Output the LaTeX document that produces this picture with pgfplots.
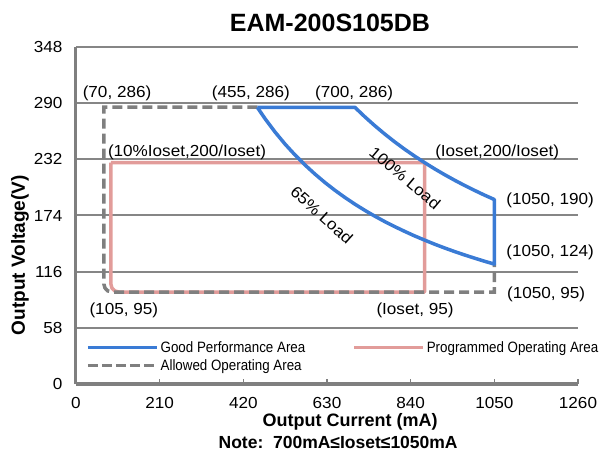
\documentclass[border=0pt]{standalone}
\usepackage{fontspec}
\setmainfont{Liberation Sans}
\newfontfamily\wfont{Liberation Sans}[FakeStretch=1.07]
\newfontfamily\nfont{Liberation Sans}[FakeStretch=0.89]
\usepackage{pgfplots}
\pgfplotsset{compat=1.18}
\definecolor{cblue}{HTML}{3A7BD5}
\definecolor{cpink}{HTML}{E29C9A}
\definecolor{cgray}{HTML}{7F7F7F}
\definecolor{cgrid}{HTML}{868686}
\begin{document}
\begin{tikzpicture}
\useasboundingbox (-76bp,-72bp) rectangle (527bp,384bp);
\begin{axis}[
  at={(0,0)}, anchor=south west,
  scale only axis, width=502bp, height=337bp,
  xmin=0, xmax=1260, ymin=0, ymax=348,
  xtick={0,210,420,630,840,1050,1260},
  ytick={0,58,116,174,232,290,348},
  axis x line*=bottom, axis y line*=left,
  axis line style={cgray, line width=3bp},
  ymajorgrids, major grid style={cgrid, line width=2bp},
  tick align=inside, major tick length=5bp,
  xtick style={cgray, line width=1.5bp},
  ytick style={draw=none},
  tick label style={font=\wfont\fontsize{16bp}{18bp}\selectfont},
  /pgf/number format/assume math mode=true,
  /pgf/number format/1000 sep={},
  xticklabel style={yshift=-10bp},
  yticklabel style={xshift=-10bp},
  clip=false,
  legend style={at={(axis cs:25,46)}, anchor=north west, draw=none, fill=none,
    font=\nfont\fontsize{15bp}{17bp}\selectfont, inner sep=0pt,
    nodes={inner ysep=1.5bp}, row sep=3bp,
    /tikz/every even column/.append style={column sep=45bp}},
  legend columns=2, legend cell align=left,
  legend image code/.code={\draw[#1] (0bp,0bp) -- (69bp,0bp);},
]
\addlegendimage{cblue, line width=3.5bp}
\addlegendentry{Good Performance Area}
\addlegendimage{cpink, line width=3.5bp}
\addlegendentry{Programmed Operating Area}
\addlegendimage{cgray, line width=3.5bp, dash pattern=on 10bp off 4bp}
\addlegendentry{Allowed Operating Area}

% Programmed operating area
\addplot[cpink, line width=3.5bp, line join=round, forget plot] coordinates {
 (87.5,228.6) (875,228.6) (875,95) (107.5,95) (97.5,96.1) (90.2,99.15) (87.5,103.3) (87.5,228.6)
};
% Allowed operating area
\addplot[cgray, line width=3.5bp, dash pattern=on 10bp off 5bp, forget plot] coordinates {
 (455,286) (70,286) (70,103.3) (72.7,99.15) (80,96.1) (90,95) (1050,95) (1050,124)
};
% Good performance area
\addplot[cblue, line width=3.5bp, line join=round, forget plot] coordinates {
 (455,285.7) (700,285.7) (725,275.9) (750,266.7) (775,258.1) (800,250.0) (825,242.4)
 (850,235.3) (875,228.6) (900,222.2) (925,216.2) (950,210.5) (975,205.1) (1000,200.0)
 (1025,195.1) (1050,190.5) (1050,123.8) (1025,126.8) (1000,130.0) (975,133.3) (950,136.8)
 (925,140.5) (900,144.4) (875,148.6) (850,152.9) (825,157.6) (800,162.5) (775,167.7)
 (750,173.3) (725,179.3) (700,185.7) (675,192.6) (650,200.0) (625,208.0) (600,216.7)
 (575,226.1) (550,236.4) (525,247.6) (500,260.0) (475,273.7) (455,285.7)
};

\begin{scope}[every node/.style={font=\wfont\fontsize{16bp}{18bp}\selectfont, inner sep=0pt}]
\node at (axis cs:103,300) {(70, 286)};
\node at (axis cs:439,300) {(455, 286)};
\node at (axis cs:698,300) {(700, 286)};
\node at (axis cs:278.6,239.6) {(10\%Ioset,200/Ioset)};
\node at (axis cs:1057,239.6) {(Ioset,200/Ioset)};
\node at (axis cs:1190,190) {(1050, 190)};
\node at (axis cs:1190,136) {(1050, 124)};
\node at (axis cs:1180,93) {(1050, 95)};
\node at (axis cs:120,76.4) {(105, 95)};
\node at (axis cs:851,76.4) {(Ioset, 95)};
\node[rotate=-40] at (axis cs:826,212.7) {100\% Load};
\node[rotate=-42] at (axis cs:617,174.5) {65\% Load};
\end{scope}
\node[font=\bfseries\fontsize{25bp}{28bp}\selectfont] at (axis cs:637.5,373.4) {EAM-200S105DB};
\node[font=\bfseries\fontsize{18bp}{20bp}\selectfont] at (axis cs:688,-39) {Output Current (mA)};
\node[font=\bfseries\fontsize{17.5bp}{20bp}\selectfont] at (axis cs:658,-60) {Note:\ \ 700mA≤Ioset≤1050mA};
\node[font=\bfseries\fontsize{19bp}{21bp}\selectfont, rotate=90] at (axis cs:-140.6,133) {Output Voltage(V)};
\end{axis}
\end{tikzpicture}
\end{document}
